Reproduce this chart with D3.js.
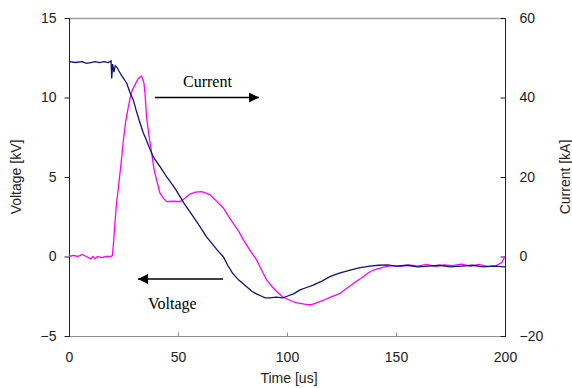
<!DOCTYPE html>
<html>
<head>
<meta charset="utf-8">
<script src="https://cdn.jsdelivr.net/npm/d3@7"></script>
<style>
  body{margin:0;background:#fff;}
  svg text{font-family:"Liberation Sans",Arial,sans-serif;}
</style>
</head>
<body>
<div id="chart"></div>
<script>
//voltage and current waveforms

var time_ticks = [0, 50, 100, 150, 200];
var volt_ticks = [-5, 0, 5, 10, 15];
var curr_ticks = [-20, 0, 20, 40, 60];

//time [us], voltage [kV]
var volt_t = [0,3,6,8,10,12,14,16,18,19.3,19.6,20,20.6,21.2,22,24,26.5,28,29.5,31,32.6,34,35.6,37,38.7,40,42,44.8,47,49,51,53,55.5,58,60,63,66,68,70.7,73,75,78,81.5,84,86,88.4,90,92,95,98,100,103,106,109,112,116,119.7,124,129,133,138,142,146,150,155,160,165,170,175,180,185,190,195,200];
var volt_v = [12.25,12.2,12.25,12.15,12.2,12.25,12.2,12.25,12.2,12.3,11.2,12.1,11.6,12.0,11.9,11.4,10.9,10.3,9.85,9.1,8.4,7.8,7.3,6.8,6.25,6.0,5.6,5.0,4.6,4.2,3.75,3.3,2.8,2.3,1.9,1.25,0.75,0.4,0.0,-0.6,-1.05,-1.5,-1.9,-2.2,-2.35,-2.5,-2.6,-2.6,-2.55,-2.6,-2.5,-2.35,-2.1,-1.95,-1.8,-1.55,-1.27,-1.05,-0.85,-0.72,-0.6,-0.55,-0.53,-0.6,-0.55,-0.65,-0.6,-0.55,-0.65,-0.6,-0.55,-0.65,-0.6,-0.65];

//time [us], current [kA]
var curr_t = [0,2,4,6,8,10,11,12,13,15,17,19,19.9,20.5,21.1,21.9,22.6,24,24.9,26,27.2,28.5,29.5,31,31.8,33.3,34.4,35,35.6,36.8,37.9,39,40.2,41.7,43.3,44.8,48,51,53,55.5,58,60.9,62.5,64.7,67,70.8,73,75.4,78,80,83,86,88,90.7,93,95.3,98,101.4,104,106,108,110.6,113,116.7,120,124.3,127,130.4,133,135,137,139.6,144.2,148,152,156,160,164,168,172,176,180,184,188,192,196,198.5,200];
var curr_v = [0,0.3,0,0.5,0,-0.6,0,-0.6,0,-0.3,0,0,0.2,4,8.6,14,17,24,29,34,37.6,41,42.4,44,44.8,45.4,43.6,40,35,30,26,22,19.2,16,14.7,13.8,13.9,13.8,14.6,15.7,16.2,16.3,16,15.5,14.3,12.2,10.3,8.3,6.2,4.2,1.6,-0.8,-3,-5.9,-7.5,-8.8,-10.2,-11,-11.6,-11.8,-12,-12.2,-11.8,-11,-10.2,-9.3,-8.2,-6.8,-5.8,-5.1,-4.2,-3.4,-2.7,-2.3,-2.5,-2.1,-2.4,-2.0,-2.5,-2.1,-2.3,-1.9,-2.4,-2.0,-2.5,-2.3,-1.5,0];

var W = 572, H = 388;
var m = {left:69, top:18, right:67, bottom:52};

var svg = d3.select("#chart").append("svg").attr("width",W).attr("height",H);

var x = d3.scaleLinear().domain([0,200]).range([m.left, W-m.right]);
var yv = d3.scaleLinear().domain([-5,15]).range([H-m.bottom, m.top]);
var yc = d3.scaleLinear().domain([-20,60]).range([H-m.bottom, m.top]);

var x0 = x.range()[0], x1 = x.range()[1];
var y0 = yv.range()[0], y1 = yv.range()[1];

//frame: top and bottom gray, sides dark
svg.append("line").attr("x1",x0).attr("x2",x1).attr("y1",y1+0.5).attr("y2",y1+0.5)
	.attr("stroke","#a0a0a0").attr("stroke-width",1.5);
svg.append("line").attr("x1",x0).attr("x2",x1).attr("y1",y0+0.5).attr("y2",y0+0.5)
	.attr("stroke","#909090").attr("stroke-width",1);

//left axis
var gl = svg.append("g").attr("transform","translate("+(x0+0.5)+",0)")
	.call(d3.axisLeft(yv).tickValues(volt_ticks).tickSize(5).tickPadding(8).tickFormat(function(d){return d<0 ? "\u2212"+(-d) : d;}));
//right axis, ticks inward
var gr = svg.append("g").attr("transform","translate("+(x1+0.5)+",0)")
	.call(d3.axisRight(yc).tickValues(curr_ticks).tickSize(-5).tickPadding(14).tickFormat(function(d){return d<0 ? "\u2212"+(-d) : d;}));
//bottom axis, ticks inward
var gb = svg.append("g").attr("transform","translate(0,"+(y0+0.5)+")")
	.call(d3.axisBottom(x).tickValues(time_ticks).tickSize(-4).tickPadding(16));

[gl,gr,gb].forEach(function(g){
	g.select(".domain").remove();
	g.selectAll("text").style("font-size","14px").attr("fill","#222");
});
gb.selectAll("line").attr("stroke","#909090");
gl.selectAll("line").attr("stroke","#222");
gr.selectAll("line").attr("stroke","#222");

svg.append("line").attr("x1",x0+0.5).attr("x2",x0+0.5).attr("y1",y1).attr("y2",y0+1)
	.attr("stroke","#222").attr("stroke-width",1);
svg.append("line").attr("x1",x1+0.5).attr("x2",x1+0.5).attr("y1",y1).attr("y2",y0+1)
	.attr("stroke","#222").attr("stroke-width",1);

//axis titles
svg.append("text").attr("x",(x0+x1)/2+2).attr("y",383).attr("text-anchor","middle")
	.style("font-size","14px").attr("fill","#222").text("Time  [us]");
svg.append("text").attr("transform","translate(21,"+((y0+y1)/2)+") rotate(-90)")
	.attr("text-anchor","middle").style("font-size","14px").attr("fill","#222").text("Voltage [kV]");
svg.append("text").attr("transform","translate(570,"+((y0+y1)/2)+") rotate(-90)")
	.attr("text-anchor","middle").style("font-size","14px").attr("fill","#222").text("Current [kA]");

//traces
var volt = volt_t.map(function(t,i){return [t, volt_v[i]];});
var curr = curr_t.map(function(t,i){return [t, curr_v[i]];});

svg.append("path").datum(curr)
	.attr("d", d3.line().x(function(d){return x(d[0]);}).y(function(d){return yc(d[1]);}))
	.attr("fill","none").attr("stroke","#ff00ff").attr("stroke-width",1.3);
svg.append("path").datum(volt)
	.attr("d", d3.line().x(function(d){return x(d[0]);}).y(function(d){return yv(d[1]);}))
	.attr("fill","none").attr("stroke","#10107a").attr("stroke-width",1.3);

//annotation arrows
var defs = svg.append("defs");
defs.append("marker").attr("id","head").attr("viewBox","0 0 10 10")
	.attr("refX",10).attr("refY",5).attr("markerWidth",10).attr("markerHeight",10)
	.attr("markerUnits","userSpaceOnUse").attr("orient","auto")
	.append("path").attr("d","M0,0L10,5L0,10Z").attr("fill","#000");

svg.append("line").attr("x1",155).attr("x2",259).attr("y1",97.5).attr("y2",97.5)
	.attr("stroke","#000").attr("stroke-width",1.3).attr("marker-end","url(#head)");
svg.append("line").attr("x1",223).attr("x2",138).attr("y1",279).attr("y2",279)
	.attr("stroke","#000").attr("stroke-width",1.3).attr("marker-end","url(#head)");

svg.append("text").attr("x",183).attr("y",87).style("font-family","'Liberation Serif','Times New Roman',serif")
	.style("font-size","16px").attr("fill","#000").text("Current");
svg.append("text").attr("x",148).attr("y",309).style("font-family","'Liberation Serif','Times New Roman',serif")
	.style("font-size","16px").attr("fill","#000").text("Voltage");
</script>
</body>
</html>
